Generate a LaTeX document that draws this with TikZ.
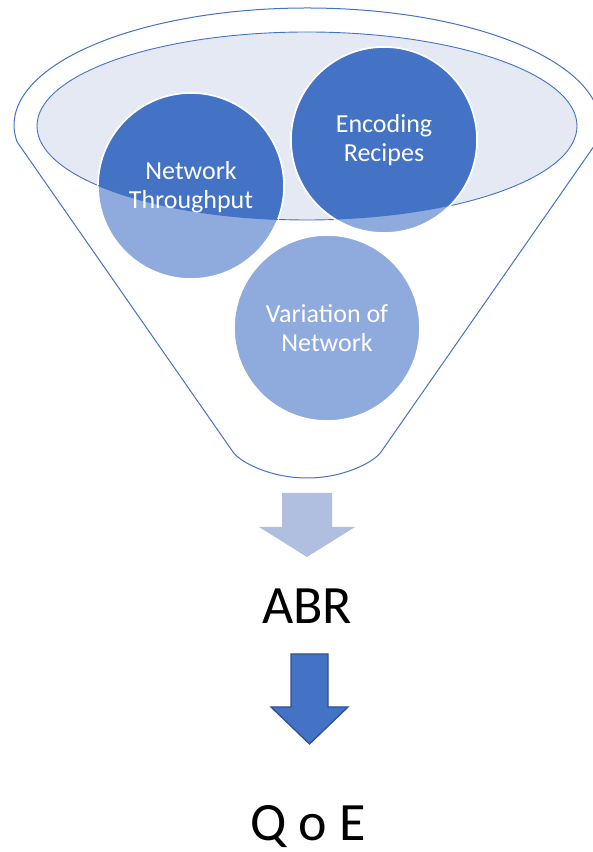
\documentclass[tikz,border=0pt]{standalone}
\usepackage{fontspec}
\setmainfont{Carlito}
\definecolor{accent}{HTML}{4472C4}
\definecolor{lightacc}{HTML}{8FAADC}
\definecolor{ellfill}{HTML}{E4E9F4}
\definecolor{arrowlight}{HTML}{B0BEE0}
\definecolor{arrowedge}{HTML}{2F528F}
\begin{document}
\begin{tikzpicture}[x=1pt,y=1pt,
  funnelline/.style={draw=accent, line width=1pt},
  bubble/.style={circle, minimum size=186pt, inner sep=0pt, fill=lightacc, draw=white, line width=1.6pt},
  bubbletext/.style={anchor=base, text=white, inner sep=0pt, font=\fontsize{26}{29}\selectfont},
  bigtext/.style={anchor=base, text=black, inner sep=0pt, font=\fontsize{54}{60}\selectfont}]
\useasboundingbox (0,0) rectangle (593,852);
% funnel outline
\draw[funnelline] (596.9,710) arc[start angle=-8.36, end angle=188.36, x radius=293, y radius=117]
  -- (233,400) .. controls (240,390) and (270,374) .. (307,374)
  .. controls (344,374) and (374,390) .. (381,400) -- cycle;
% inner ellipse (mouth of the funnel)
\draw[fill=ellfill, draw=accent, line width=0.9pt] (307,726) ellipse[x radius=270, y radius=94];
% bubbles
\node[bubble] (nt) at (191,666) {};
\node[bubble] (er) at (384,712) {};
\node[bubble] (vn) at (327,524) {};
% darker part of the bubbles inside the mouth
\begin{scope}
  \clip (307,726) ellipse[x radius=270, y radius=94];
  \fill[accent] (nt.center) circle (93);
  \fill[accent] (er.center) circle (93);
  \draw[white, line width=1.6pt] (nt.center) circle (93);
  \draw[white, line width=1.6pt] (er.center) circle (93);
\end{scope}
\begin{scope}
  \clip (nt.center) circle (93);
  \draw[accent, line width=0.9pt] (307,726) ellipse[x radius=270, y radius=94];
\end{scope}
% bubble texts
\node[bubbletext] (ntt) at (191,672.7) {\begin{tabular}[t]{@{}c@{}}Network\\Throughput\end{tabular}};
\node[bubbletext] (ert) at (384,719) {\begin{tabular}[t]{@{}c@{}}Encoding\\Recipes\end{tabular}};
\node[bubbletext] (vnt) at (327,529.3) {\begin{tabular}[t]{@{}c@{}}Variation of\\Network\end{tabular}};
% light arrow
\coordinate (la) at (307,295);
\fill[arrowlight] (282,359) -- (332,359) -- (332,325) -- (355,325) -- (la) -- (259,325) -- (282,325) -- cycle;
% ABR
\node[bigtext] (abr) at (307,228) {ABR};
% dark arrow
\coordinate (da) at (309.5,108);
\draw[fill=accent, draw=arrowedge, line width=1.3pt, line join=miter]
  (291,198) -- (328,198) -- (328,145) -- (348,145) -- (da) -- (271,145) -- (291,145) -- cycle;
% QoE
\node[bigtext] (qoe) at (308,11) {Q o E};
\end{tikzpicture}
\end{document}
